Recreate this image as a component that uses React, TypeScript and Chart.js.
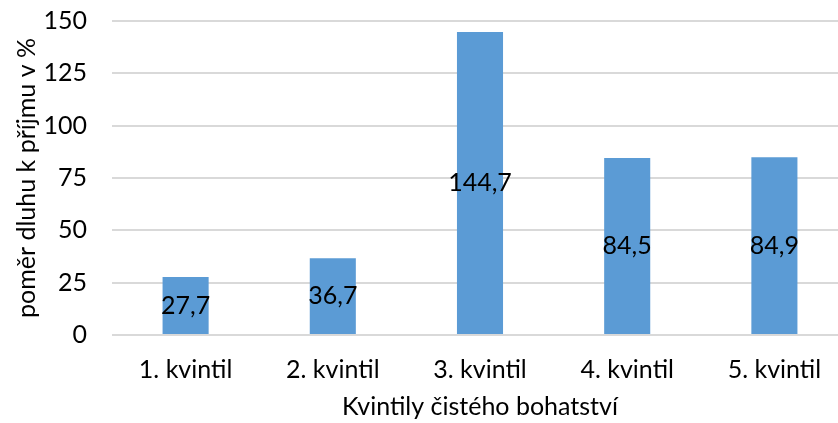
import React, { useEffect, useRef } from "react";
import { Chart, registerables } from "chart.js";

Chart.register(...registerables);

const categories = ["1. kvintil", "2. kvintil", "3. kvintil", "4. kvintil", "5. kvintil"];
const values = [27.7, 36.7, 144.7, 84.5, 84.9];
const yTicks = [0, 25, 50, 75, 100, 125, 150];
const yTitle = "poměr dluhu k příjmu v %";
const xTitle = "Kvintily čistého bohatství";

const FONT = "Lato, 'Open Sans', sans-serif";
const SIZE = 25;

const labelPlugin = {
  id: "barLabels",
  afterDatasetsDraw(chart: any) {
    const ctx = chart.ctx;
    const meta = chart.getDatasetMeta(0);
    ctx.save();
    ctx.font = `${SIZE}px ${FONT}`;
    ctx.fillStyle = "#000000";
    ctx.textAlign = "center";
    ctx.textBaseline = "middle";
    meta.data.forEach((bar: any, i: number) => {
      const v = values[i];
      const y = (bar.y + bar.base) / 2;
      ctx.fillText(v.toFixed(1).replace(".", ","), bar.x, y);
    });
    ctx.restore();
  },
};

export default function App() {
  const ref = useRef<HTMLCanvasElement>(null);
  useEffect(() => {
    if (!ref.current) return;
    const chart = new Chart(ref.current, {
      type: "bar",
      data: {
        labels: categories,
        datasets: [
          {
            data: values,
            backgroundColor: "#5b9bd5",
            borderWidth: 0,
            barPercentage: 1,
            categoryPercentage: 0.313,
          },
        ],
      },
      options: {
        responsive: false,
        animation: false,
        devicePixelRatio: 1,
        layout: { padding: { top: 21, right: 2, bottom: 0, left: 0 } },
        plugins: { legend: { display: false }, tooltip: { enabled: false } },
        scales: {
          x: {
            grid: { display: false, drawTicks: false },
            border: { display: false },
            ticks: { color: "#000", font: { family: FONT, size: SIZE }, padding: 20, maxRotation: 0 },
            title: {
              display: true,
              text: xTitle,
              color: "#000",
              font: { family: FONT, size: SIZE },
              padding: { top: 0, bottom: 1 },
            },
            afterFit: (s: any) => {
              s.height = 88;
              s.paddingLeft = 0;
              s.paddingRight = 0;
            },
          },
          y: {
            min: 0,
            max: 150,
            afterBuildTicks: (s: any) => {
              s.ticks = yTicks.map((v) => ({ value: v }));
            },
            grid: { color: "#d9d9d9", lineWidth: 2, drawTicks: false },
            border: { display: false },
            ticks: { color: "#000", font: { family: FONT, size: SIZE }, padding: 25 },
            title: {
              display: true,
              text: yTitle,
              color: "#000",
              font: { family: FONT, size: SIZE },
              padding: { top: 12, bottom: 0 },
            },
            afterFit: (s: any) => {
              s.width = 112;
              s.paddingTop = 0;
              s.paddingBottom = 0;
            },
          },
        },
      },
      plugins: [labelPlugin],
    });
    return () => chart.destroy();
  }, []);
  return (
    <div style={{ position: "fixed", left: 0, top: 0, width: 838, height: 423, overflow: "hidden" }}>
      <canvas ref={ref} width={850} height={423} style={{ display: "block" }} />
    </div>
  );
}
